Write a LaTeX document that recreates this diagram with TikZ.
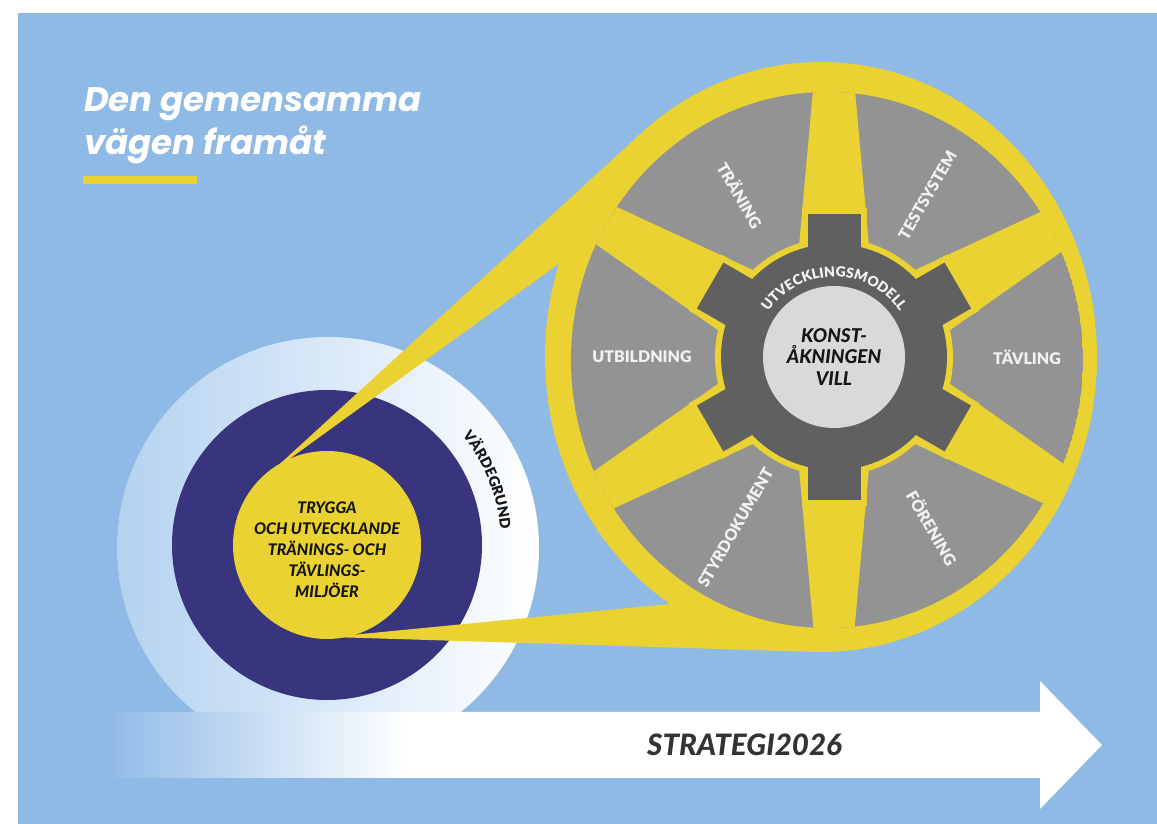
\documentclass[tikz,border=0pt]{standalone}
\usepackage{fontspec}
\setmainfont{Lato}
\newfontfamily\titlefont{Poppins}
\IfFontExistsTF{Lato Black}
  {\newfontfamily\heavyfont{Lato Black}\newcommand\heavy{\heavyfont}}
  {\newcommand\heavy{\bfseries}}
\usetikzlibrary{positioning,calc,decorations.text}
\definecolor{skyblue}{HTML}{8FBAE6}
\definecolor{wheelyellow}{HTML}{EAD232}
\definecolor{segmentgrey}{HTML}{939393}
\definecolor{geargrey}{HTML}{606060}
\definecolor{hubgrey}{HTML}{D9D9D9}
\definecolor{navy}{HTML}{38357E}
\definecolor{halolight}{HTML}{B4D2F0}
\definecolor{inkgrey}{HTML}{333333}
\definecolor{inkblack}{HTML}{151515}
\pgfdeclarehorizontalshading{roadfade}{100bp}{color(0bp)=(skyblue); color(25bp)=(skyblue); color(40bp)=(white); color(100bp)=(white)}

\begin{document}
\begin{tikzpicture}[x=1pt, y=1pt,
    title/.style   = {font=\titlefont\bfseries\itshape\fontsize{34}{34}\selectfont, text=white, inner sep=0pt, anchor=base west},
    road/.style    = {font=\heavy\itshape\fontsize{29.5}{29.5}\selectfont, text=inkgrey, inner sep=0pt, anchor=base west},
    segment/.style = {font=\heavy\fontsize{16}{16}\selectfont, text=white!95!black, inner sep=0pt},
    hub/.style     = {circle, fill=hubgrey, minimum size=142pt, inner sep=0pt, align=center, text=inkblack,
                      font=\heavy\itshape\fontsize{19}{21.5}\selectfont},
    core/.style    = {circle, fill=wheelyellow, minimum size=188pt, inner sep=0pt},
    coretext/.style = {align=center, inner sep=0pt, text=inkblack, font=\heavy\itshape\fontsize{16}{21}\selectfont},
    spoke/.style   = {fill=wheelyellow},
    tooth/.style   = {fill=geargrey}]

  \useasboundingbox (0,0) rectangle (1157,824);
  \fill[skyblue] (18,0) rectangle (1157,811);

  % title
  \node[title] (title1) at (84,712) {Den gemensamma};
  \node[title] (title2) at (84,669) {vägen framåt};
  \fill[wheelyellow] (83,640) rectangle (197,648);

  \coordinate (C) at (834,467);
  \coordinate (S) at (327,279);

  % halo and road
  \shade[left color=halolight, right color=white] (328,276) circle (211);
  \shade[shading=roadfade] (105,112) -- (1040,112) -- (1040,143) -- (1102,79) -- (1040,15) -- (1040,46) -- (105,46) -- cycle;
  \node[road] (strategy) at (647,68) {STRATEGI2026};

  \fill[navy] (S) circle (155);

  % zoom wedges
  \coordinate (w1) at (270,351);
  \coordinate (t1) at (641.5,691);
  \coordinate (p1) at (575,572);
  \coordinate (w2) at (331,187);
  \coordinate (p2) at (680,221);
  \coordinate (t2) at (818,172);
  \fill[wheelyellow] (821,467) ellipse [x radius=276, y radius=295];
  \fill[wheelyellow] (w1) -- (t1) -- (p1) -- cycle;
  \fill[wheelyellow] (w2) -- (p2) -- (t2) -- cycle;

  \node[core] (core) at (S) {};
  \node[coretext] (trygga) at (327,274) {TRYGGA\\OCH UTVECKLANDE\\TRÄNINGS- OCH\\TÄVLINGS-\\MILJÖER};
  \path[decorate, decoration={text along path, text align=center,
      text={|\heavy\fontsize{14.5}{14.5}\selectfont\color{inkblack}|VÄRDEGRUND}}]
      ([shift={(43:174)}]S) arc (43:1:174);

  % wheel
  \begin{scope}
    \clip (827,464) ellipse [x radius=256, y radius=268];
    \fill[segmentgrey] (827,464) ellipse [x radius=256, y radius=268];
    \fill[spoke, shift={(C)}, rotate=30]  (0,-45) -- (300,-18) -- (300,18) -- (0,45) -- cycle;
    \fill[spoke, shift={(C)}, rotate=90]  (0,-45) -- (300,-18) -- (300,18) -- (0,45) -- cycle;
    \fill[spoke, shift={(C)}, rotate=150] (0,-45) -- (300,-18) -- (300,18) -- (0,45) -- cycle;
    \fill[spoke, shift={(C)}, rotate=210] (0,-45) -- (300,-18) -- (300,18) -- (0,45) -- cycle;
    \fill[spoke, shift={(C)}, rotate=270] (0,-45) -- (300,-18) -- (300,18) -- (0,45) -- cycle;
    \fill[spoke, shift={(C)}, rotate=330] (0,-45) -- (300,-18) -- (300,18) -- (0,45) -- cycle;
  \end{scope}

  % gear
  \fill[wheelyellow] (C) circle (119);
  \fill[spoke, shift={(C)}, rotate=30]  (100,-32.5) rectangle (149,32.5);
  \fill[spoke, shift={(C)}, rotate=90]  (100,-32.5) rectangle (149,32.5);
  \fill[spoke, shift={(C)}, rotate=150] (100,-32.5) rectangle (149,32.5);
  \fill[spoke, shift={(C)}, rotate=210] (100,-32.5) rectangle (149,32.5);
  \fill[spoke, shift={(C)}, rotate=270] (100,-32.5) rectangle (149,32.5);
  \fill[spoke, shift={(C)}, rotate=330] (100,-32.5) rectangle (149,32.5);
  \fill[geargrey] (C) circle (113);
  \fill[tooth, shift={(C)}, rotate=30]  (100,-26.5) rectangle (143,26.5);
  \fill[tooth, shift={(C)}, rotate=90]  (100,-26.5) rectangle (143,26.5);
  \fill[tooth, shift={(C)}, rotate=150] (100,-26.5) rectangle (143,26.5);
  \fill[tooth, shift={(C)}, rotate=210] (100,-26.5) rectangle (143,26.5);
  \fill[tooth, shift={(C)}, rotate=270] (100,-26.5) rectangle (143,26.5);
  \fill[tooth, shift={(C)}, rotate=330] (100,-26.5) rectangle (143,26.5);

  \node[hub] (hub) at (C) {KONST-\\ÅKNINGEN\\VILL};
  \path[decorate, decoration={text along path, text align=center,
      text={|\heavy\fontsize{14}{14}\selectfont\color{white!95!black}|UTVECKLINGSMODELL}}]
      ([shift={(152:80)}]C) arc (152:28:80);

  % segments
  \node[segment] (compete) at ($(C)+(0:193)$) {TÄVLING};
  \node[segment, rotate=60] (tests) at ($(C)+(60:187)$) {TESTSYSTEM};
  \node[segment, rotate=-60] (train) at ($(C)+(120:187)$) {TRÄNING};
  \node[segment] (educ) at ($(C)+(180:192)$) {UTBILDNING};
  \node[segment, rotate=60] (docs) at ($(C)+(240:197)$) {STYRDOKUMENT};
  \node[segment, rotate=-60] (club) at ($(C)+(300:197)$) {FÖRENING};

\end{tikzpicture}
\end{document}
